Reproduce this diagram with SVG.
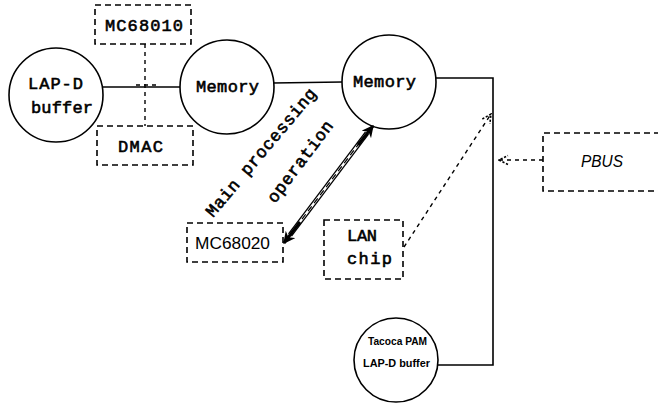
<svg xmlns="http://www.w3.org/2000/svg" width="658" height="408" viewBox="0 0 658 408">
<style>
.node{fill:none;stroke:#000;stroke-width:1.6}
.box{fill:none;stroke:#000;stroke-width:1.6;stroke-dasharray:6 4}
.mono{font-family:"Liberation Mono","Courier New",monospace;font-size:17px;fill:#000;stroke:#000;stroke-width:0.6}
.sans{font-family:"Liberation Sans",Arial,sans-serif;font-size:17px;fill:#000}
.small{font-family:"Liberation Sans",Arial,sans-serif;font-size:11px;font-weight:bold;fill:#000}
.wire{fill:none;stroke:#000;stroke-width:1.6}
.dot{fill:none;stroke:#000;stroke-width:1.4;stroke-dasharray:4 4}
</style>
<defs>
<marker id="open" viewBox="0 0 10 10" refX="9" refY="5" markerWidth="8" markerHeight="8" orient="auto">
<path d="M1,1 L9,5 L1,9" fill="none" stroke="#000" stroke-width="1.4" stroke-dasharray="2 1.5"/>
</marker>
<marker id="big" viewBox="0 0 10 10" refX="9" refY="5" markerWidth="4" markerHeight="4" orient="auto">
<path d="M0,0 L10,5 L0,10 L3,5 Z" fill="#000"/>
</marker>
</defs>
<g id="connectors">
<line class="wire" x1="103" y1="87" x2="180" y2="87"/>
<line class="wire" x1="273" y1="83" x2="342" y2="82"/>
<polyline class="wire" points="436,78 493,78 493,365 437,365"/>
<line class="dot" x1="145" y1="44" x2="145" y2="126"/>
<line class="dot" x1="136" y1="85" x2="156" y2="85"/>
<line class="dot" x1="404" y1="247" x2="491" y2="114" marker-end="url(#open)"/>
<line class="dot" x1="543" y1="160" x2="499" y2="160" marker-end="url(#open)"/>
<g id="main-arrow">
<line x1="290" y1="235" x2="367" y2="133" stroke="#000" stroke-width="5"/>
<line x1="290" y1="235" x2="367" y2="133" stroke="#fff" stroke-width="2.4"/>
<line x1="290" y1="235" x2="367" y2="133" stroke="#000" stroke-width="1.2" stroke-dasharray="6 4"/>
<line x1="300" y1="222" x2="284" y2="243" stroke="#000" stroke-width="3" marker-end="url(#big)"/>
<line x1="358" y1="145" x2="373" y2="126" stroke="#000" stroke-width="3" marker-end="url(#big)"/>
</g>
<g class="mono">
<text x="213" y="218" transform="rotate(-50 213 218)" textLength="162" lengthAdjust="spacing">Main processing</text>
<text x="275" y="204" transform="rotate(-53 275 204)" textLength="98" lengthAdjust="spacing">operation</text>
</g>
</g>
<g id="lapd">
<circle class="node" cx="56" cy="95" r="47"/>
<text class="mono" x="28" y="89" textLength="55">LAP-D</text>
<text class="mono" x="31" y="113" textLength="62">buffer</text>
</g>
<g id="mc68010">
<rect class="box" x="95" y="5" width="96" height="39"/>
<text class="mono" x="105" y="31" textLength="78">MC68010</text>
</g>
<g id="dmac">
<rect class="box" x="97" y="126" width="96" height="39"/>
<text class="mono" x="118" y="152" textLength="45">DMAC</text>
</g>
<g id="memory1">
<circle class="node" cx="227" cy="87" r="47"/>
<text class="mono" x="196" y="92" textLength="63">Memory</text>
</g>
<g id="memory2">
<circle class="node" cx="389" cy="82" r="47"/>
<text class="mono" x="353" y="87" textLength="63">Memory</text>
</g>
<g id="mc68020">
<rect class="box" x="187" y="223" width="96" height="39"/>
<text class="sans" x="195" y="249" textLength="75" lengthAdjust="spacingAndGlyphs">MC68020</text>
</g>
<g id="lanchip">
<rect class="box" x="324" y="220" width="79" height="59"/>
<text class="mono" x="347" y="241" textLength="30">LAN</text>
<text class="mono" x="347" y="264" textLength="45">chip</text>
</g>
<g id="pbus">
<path class="box" d="M660,133 L543,133 L543,191 L660,191"/>
<text class="sans" x="581" y="167" textLength="42" lengthAdjust="spacingAndGlyphs" font-style="italic">PBUS</text>
</g>
<g id="tacoca">
<circle class="node" cx="396" cy="360" r="42"/>
<text class="small" x="368" y="345" textLength="59" lengthAdjust="spacingAndGlyphs">Tacoca PAM</text>
<text class="small" x="363" y="367" textLength="67" lengthAdjust="spacingAndGlyphs">LAP-D buffer</text>
</g>
</svg>
